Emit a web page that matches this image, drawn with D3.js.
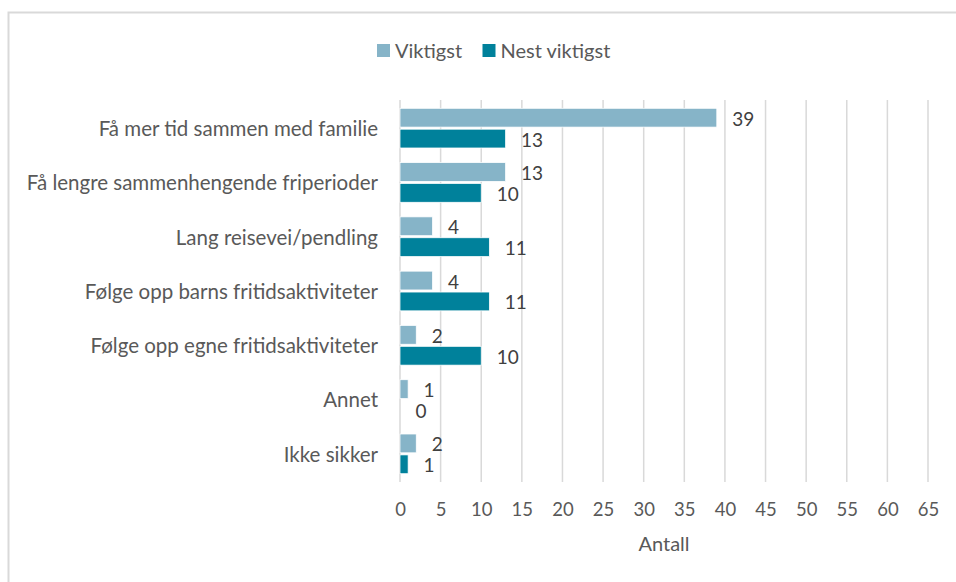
<!DOCTYPE html>
<html>
<head>
<meta charset="utf-8">
<script src="https://cdn.jsdelivr.net/npm/d3@7"></script>
<style>
  body { margin: 0; background: #fff; }
  svg text { font-family: "Lato", "Noto Sans", sans-serif; }
</style>
</head>
<body>
<div class="chart"></div>
<script>
// data
const categories = [
  "Få mer tid sammen med familie",
  "Få lengre sammenhengende friperioder",
  "Lang reisevei/pendling",
  "Følge opp barns fritidsaktiviteter",
  "Følge opp egne fritidsaktiviteter",
  "Annet",
  "Ikke sikker"
];
const seriesNames = ["Viktigst", "Nest viktigst"];
const viktigst = [39, 13, 4, 4, 2, 1, 2];
const nestViktigst = [13, 10, 11, 11, 10, 0, 1];
const xTicks = [0, 5, 10, 15, 20, 25, 30, 35, 40, 45, 50, 55, 60, 65];
const axisTitle = "Antall";

const width = 956, height = 582;
const margin = {top: 101, right: 28, bottom: 101, left: 400};
const colors = ["#86b4c8", "#00819b"];
const textColor = "#595959";

const rows = categories.map((c, i) => ({cat: c, values: [viktigst[i], nestViktigst[i]]}));

const svg = d3.select(".chart").append("svg")
  .attr("width", width)
  .attr("height", height);

// chart frame (runs off the right / bottom edge in the reference)
svg.append("rect")
  .attr("x", 8.5).attr("y", 12.5)
  .attr("width", 1000).attr("height", 700)
  .attr("fill", "none")
  .attr("stroke", "#d9d9d9")
  .attr("stroke-width", 2);

const x = d3.scaleLinear().domain([0, 65]).range([margin.left, width - margin.right]);
const y0 = d3.scaleBand().domain(categories).range([margin.top, height - margin.bottom]);
const y1 = d3.scaleBand().domain(seriesNames)
  .range([7.3, y0.bandwidth() - 7.3])
  .paddingInner(0.1);

// gridlines
svg.append("g")
  .selectAll("line")
  .data(xTicks)
  .join("line")
  .attr("x1", d => x(d)).attr("x2", d => x(d))
  .attr("y1", margin.top - 1).attr("y2", height - margin.bottom + 1)
  .attr("stroke", "#d9d9d9")
  .attr("stroke-width", 1.5);

// x axis labels
const xAxis = svg.append("g")
  .attr("transform", `translate(0,${height - margin.bottom})`)
  .call(d3.axisBottom(x).tickValues(xTicks).tickSize(0).tickPadding(22));
xAxis.select(".domain").remove();
xAxis.selectAll("text")
  .attr("fill", textColor)
  .style("font-size", "18.5px");

// category labels
svg.append("g")
  .selectAll("text")
  .data(categories)
  .join("text")
  .attr("x", 378)
  .attr("y", d => y0(d) + y0.bandwidth() / 2)
  .attr("dy", "0.38em")
  .attr("text-anchor", "end")
  .attr("fill", textColor)
  .style("font-size", "20.5px")
  .text(d => d);

// bars
const groups = svg.append("g")
  .selectAll("g")
  .data(rows)
  .join("g")
  .attr("transform", d => `translate(0,${y0(d.cat)})`);

groups.selectAll("rect")
  .data(d => d.values.map((v, i) => ({name: seriesNames[i], value: v, i: i})))
  .join("rect")
  .attr("x", x(0))
  .attr("y", d => y1(d.name))
  .attr("width", d => x(d.value) - x(0))
  .attr("height", y1.bandwidth())
  .attr("fill", d => colors[d.i])
  .attr("stroke", "#ffffff")
  .attr("stroke-width", 0.75);

groups.selectAll("text")
  .data(d => d.values.map((v, i) => ({name: seriesNames[i], value: v})))
  .join("text")
  .attr("x", d => x(d.value) + 15.5)
  .attr("y", d => y1(d.name) + y1.bandwidth() / 2)
  .attr("dy", "0.42em")
  .attr("fill", "#404040")
  .style("font-size", "19px")
  .text(d => d.value);

// axis title
svg.append("text")
  .attr("x", (x(0) + x(65)) / 2)
  .attr("y", 551)
  .attr("text-anchor", "middle")
  .attr("fill", textColor)
  .style("font-size", "20px")
  .text(axisTitle);

// legend
const legend = svg.append("g").attr("transform", "translate(377,44)");
const legendX = [0, 105.5];
seriesNames.forEach((name, i) => {
  const g = legend.append("g").attr("transform", `translate(${legendX[i]},0)`);
  g.append("rect")
    .attr("width", 13).attr("height", 13)
    .attr("fill", colors[i]);
  g.append("text")
    .attr("x", 18)
    .attr("y", 6.5)
    .attr("dy", "0.36em")
    .attr("fill", textColor)
    .style("font-size", "20px")
    .text(name);
});
</script>
</body>
</html>
